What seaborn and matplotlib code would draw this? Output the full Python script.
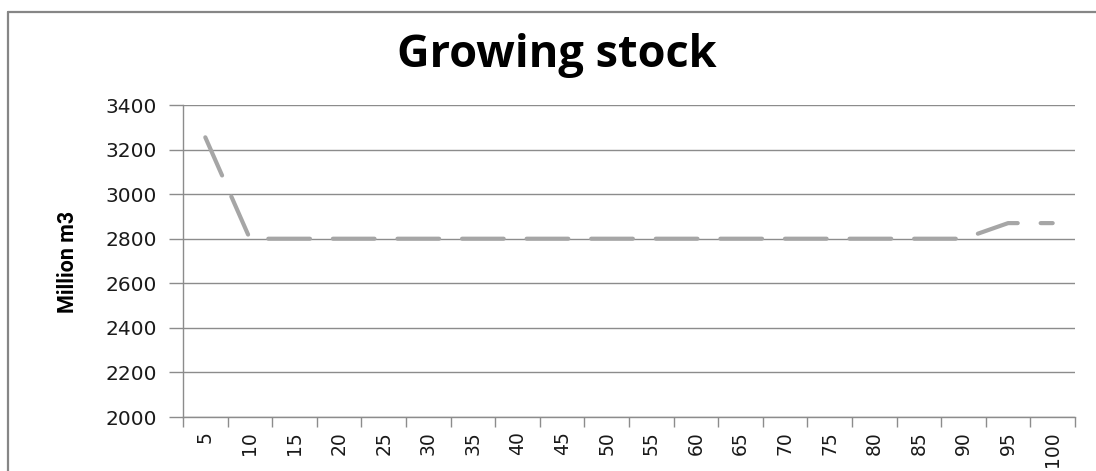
import matplotlib
matplotlib.use("Agg")
import matplotlib.pyplot as plt
from matplotlib.lines import Line2D
import seaborn as sns
import numpy as np
import pandas as pd

# ---- data ----
categories = ["5", "10", "15", "20", "25", "30", "35", "40", "45", "50",
              "55", "60", "65", "70", "75", "80", "85", "90", "95", "100"]
growing_stock = [3255, 2800, 2800, 2800, 2800, 2800, 2800, 2800, 2800, 2800,
                 2800, 2800, 2800, 2800, 2800, 2800, 2800, 2800, 2870, 2870]
y_ticks = [2000, 2200, 2400, 2600, 2800, 3000, 3200, 3400]

sns.set_theme(style="white")
plt.rcParams['font.family'] = ['DejaVu Sans']

fig = plt.figure(figsize=(10.96, 4.71), dpi=100)
ax = fig.add_axes([183/1096, 1 - 417/471, (1075 - 183)/1096, (417 - 105)/471])

df = pd.DataFrame({"pos": np.arange(len(categories)), "value": growing_stock})
sns.lineplot(data=df, x="pos", y="value", ax=ax, color="#a6a6a6",
             linewidth=3.0, estimator=None)
line = ax.lines[0]
line.set_dashes((10, 5.5))
line.set_dash_capstyle("round")
line.set_solid_capstyle("round")

ax.set_xlim(-0.5, len(categories) - 0.5)
ax.set_ylim(2000, 3400)
ax.set_yticks(y_ticks)
ax.set_yticklabels([str(v) for v in y_ticks], fontsize=14.5, color="#1a1a1a")
ax.set_xticks(np.arange(len(categories)))
ax.set_xticklabels(categories, rotation=90, fontsize=13.5, color="#1a1a1a")
ax.set_xticks(np.arange(-0.5, len(categories)), minor=True)
ax.tick_params(axis="x", which="major", length=0, pad=10)
ax.tick_params(axis="x", which="minor", length=7, width=1, color="#8c8c8c",
               direction="out", bottom=True)
ax.tick_params(axis="y", which="major", length=10, width=1, color="#8c8c8c",
               direction="out", left=True, pad=9)

ax.grid(axis="y", color="#8c8c8c", linewidth=1)
ax.set_axisbelow(True)
for s in ["top", "right"]:
    ax.spines[s].set_visible(False)
for s in ["left", "bottom"]:
    ax.spines[s].set_color("#8c8c8c")
    ax.spines[s].set_linewidth(1)

ax.set_xlabel("")
ax.set_ylabel("")
fig.text(68/1096, 1 - 262/471, "Million m3", rotation=90, ha="center", va="center",
         fontsize=15.5, fontweight="semibold", family=["Roboto", "DejaVu Sans"],
         color="#000000")

fig.text(557/1096, 1 - 56/471, "Growing stock", ha="center", va="center",
         fontsize=32.5, fontweight="bold", family=["Open Sans", "DejaVu Sans"], color="#000000")

# outer chart border
fig.add_artist(Line2D([8/1096, 1.0], [1 - 12/471, 1 - 12/471], transform=fig.transFigure,
                      color="#868686", linewidth=1.6))
fig.add_artist(Line2D([8/1096, 8/1096], [0.0, 1 - 12/471], transform=fig.transFigure,
                      color="#868686", linewidth=1.6))

fig.savefig("out.png", dpi=100, facecolor="white")
